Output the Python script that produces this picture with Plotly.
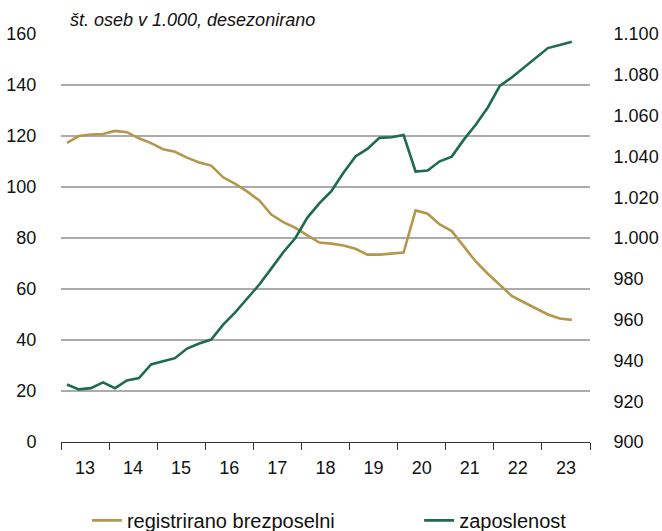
import pandas as pd
import plotly.graph_objects as go

# quarterly observations 2013Q1 .. 2023Q3
quarters = [f"{y}Q{q}" for y in range(2013, 2024) for q in range(1, 5)][:43]

registrirano_brezposelni = [
    117.3, 120.0, 120.6, 120.8, 122.0, 121.5, 119.1, 117.2, 114.8, 113.8,
    111.5, 109.6, 108.4, 103.8, 101.2, 98.2, 94.7, 89.2, 86.2, 84.0,
    81.0, 78.2, 77.8, 77.1, 75.8, 73.5, 73.5, 73.9, 74.3, 90.8,
    89.5, 85.3, 82.7, 76.8, 70.8, 66.0, 61.5, 57.3, 54.8, 52.3,
    50.0, 48.4, 47.9,
]
zaposlenost = [
    928.2, 925.8, 926.4, 929.2, 926.4, 930.2, 931.3, 938.0, 939.6, 941.1,
    945.8, 948.3, 950.2, 957.5, 963.5, 970.3, 977.2, 985.0, 993.0, 1000.0,
    1010.0, 1017.0, 1023.0, 1032.0, 1040.0, 1043.7, 1049.1, 1049.4, 1050.5, 1032.6,
    1033.1, 1037.6, 1039.9, 1048.1, 1055.5, 1064.0, 1074.6, 1078.7, 1083.6, 1088.5,
    1093.1, 1094.6, 1096.2,
]
year_labels = ["13", "14", "15", "16", "17", "18", "19", "20", "21", "22", "23"]
years = list(range(2013, 2024))
left_ticks = [0, 20, 40, 60, 80, 100, 120, 140, 160]
right_ticks = [900, 920, 940, 960, 980, 1000, 1020, 1040, 1060, 1080, 1100]

periods = pd.PeriodIndex(quarters, freq="Q")
x_dates = [p.start_time + (p.end_time - p.start_time) / 2 for p in periods]

GOLD = "#B4964C"
GREEN = "#1E6B4F"
GRID = "#ABABAB"
FONT = "Liberation Sans, Arial, sans-serif"
CLEAR = "rgba(0,0,0,0)"

fig = go.Figure()
fig.add_trace(go.Scatter(
    x=x_dates, y=registrirano_brezposelni, mode="lines",
    name="registrirano brezposelni",
    line=dict(color=GOLD, width=2.6), yaxis="y", legend="legend",
))
fig.add_trace(go.Scatter(
    x=x_dates, y=zaposlenost, mode="lines",
    name="zaposlenost",
    line=dict(color=GREEN, width=2.6), yaxis="y2", legend="legend2",
))

leg_common = dict(orientation="h", yanchor="middle", y=-0.192,
                  font=dict(size=20), bgcolor=CLEAR,
                  xanchor="left", itemwidth=30)

fig.update_layout(
    width=662, height=531,
    margin=dict(l=61, r=72, t=34, b=89, autoexpand=False),
    plot_bgcolor="white", paper_bgcolor="white",
    separators=",.",
    font=dict(family=FONT, size=18, color="#111111"),
    showlegend=True,
    legend=dict(x=0.049, **leg_common),
    legend2=dict(x=0.677, **leg_common),
    xaxis=dict(
        type="date", automargin=False,
        range=[f"{years[0]}-01-01", f"{years[-1] + 1}-01-01"],
        tickmode="array",
        tickvals=[f"{y}-07-02" for y in years],
        ticktext=year_labels,
        ticks="outside", ticklen=9, tickcolor=CLEAR,
        showgrid=False,
        showline=True, linecolor="#333333", linewidth=1,
        minor=dict(
            tickmode="array",
            tickvals=[f"{y}-01-01" for y in years + [years[-1] + 1]],
            ticks="outside", ticklen=7, tickcolor="#333333", tickwidth=1,
            showgrid=False,
        ),
        zeroline=False,
    ),
    yaxis=dict(
        range=[0, 160], tickmode="array", tickvals=left_ticks,
        showgrid=True, gridcolor=GRID, gridwidth=1.5, griddash="solid",
        zeroline=False, showline=False,
        ticks="outside", ticklen=20, tickcolor=CLEAR,
        automargin=False,
    ),
    yaxis2=dict(
        range=[900, 1100], tickmode="array", tickvals=right_ticks,
        overlaying="y", side="right", automargin=False,
        showgrid=False, zeroline=False, showline=False,
        ticks="outside", ticklen=19, tickcolor=CLEAR,
        tickformat=",d",
    ),
    annotations=[dict(
        text="<i>št. oseb v 1.000, desezonirano</i>",
        xref="paper", yref="paper", x=0.013, y=1.035,
        xanchor="left", yanchor="middle", showarrow=False,
        font=dict(size=18, family=FONT),
    )],
)

fig.write_html(
    "out.html",
    config={"displayModeBar": False},
    post_script="document.body.style.margin='0';document.body.style.overflow='hidden';",
)
